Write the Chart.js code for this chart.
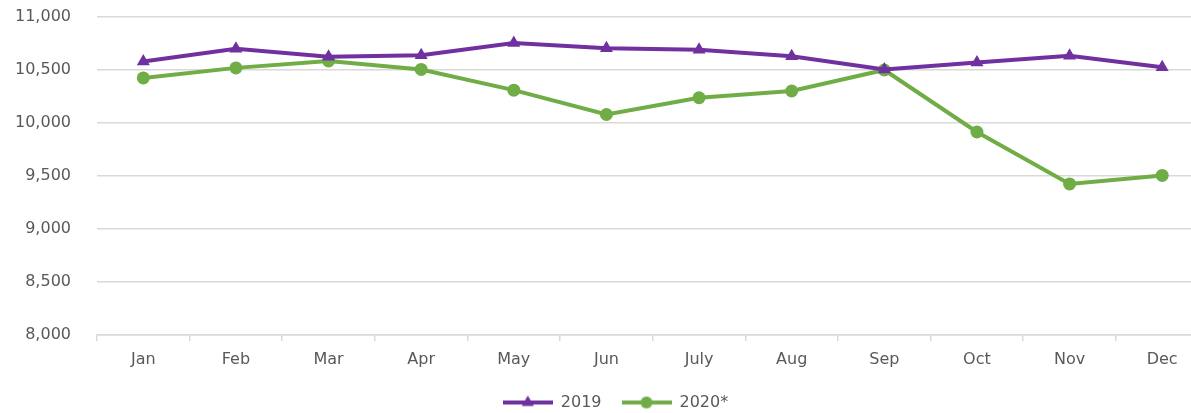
<!DOCTYPE html>
<html>
<head>
<meta charset="utf-8">
<script src="https://cdn.jsdelivr.net/npm/chart.js@4.4.1/dist/chart.umd.min.js"></script>
<style>
  html, body { margin: 0; padding: 0; background: #ffffff; overflow: hidden; }
  #wrap { position: relative; width: 1216px; height: 413px; }
</style>
</head>
<body>
<div id="wrap"><canvas id="c"></canvas></div>
<script>
const categories = ["Jan", "Feb", "Mar", "Apr", "May", "Jun", "July", "Aug", "Sep", "Oct", "Nov", "Dec"];
const series2019 = [10580, 10700, 10625, 10640, 10755, 10705, 10690, 10630, 10505, 10570, 10635, 10525];
const series2020 = [10425, 10520, 10585, 10505, 10310, 10080, 10238, 10302, 10500, 9915, 9425, 9505];
const seriesNames = ["2019", "2020*"];
const yTicks = { min: 8000, max: 11000, step: 500 };

const PURPLE = "#7030A0";
const GREEN = "#70AD47";
const TEXT = "#595959";
const GRID = "#d9d9d9";

function legendIcon(color, shape) {
  const cv = document.createElement("canvas");
  cv.width = 50; cv.height = 16;
  const ctx = cv.getContext("2d");
  ctx.strokeStyle = color; ctx.lineWidth = 4;
  ctx.beginPath(); ctx.moveTo(0, 8); ctx.lineTo(50, 8); ctx.stroke();
  ctx.fillStyle = color;
  ctx.beginPath();
  if (shape === "triangle") {
    const r = 7;
    ctx.moveTo(25, 8 - r);
    ctx.lineTo(25 + r * 0.866, 8 + r / 2);
    ctx.lineTo(25 - r * 0.866, 8 + r / 2);
    ctx.closePath();
  } else {
    ctx.arc(25, 8, 6, 0, Math.PI * 2);
  }
  ctx.fill();
  return cv;
}
const icons = [legendIcon(PURPLE, "triangle"), legendIcon(GREEN, "circle")];

Chart.defaults.font.family = "'DejaVu Sans', sans-serif";
Chart.defaults.font.size = 16;
Chart.defaults.color = TEXT;

new Chart(document.getElementById("c"), {
  type: "line",
  data: {
    labels: categories,
    datasets: [
      {
        label: seriesNames[0],
        data: series2019,
        borderColor: PURPLE,
        backgroundColor: PURPLE,
        borderWidth: 4,
        pointStyle: "triangle",
        pointRadius: 7.5,
        pointHoverRadius: 7.5,
        pointBorderWidth: 0,
        tension: 0
      },
      {
        label: seriesNames[1],
        data: series2020,
        borderColor: GREEN,
        backgroundColor: GREEN,
        borderWidth: 4,
        pointStyle: "circle",
        pointRadius: 6.5,
        pointHoverRadius: 6.5,
        pointBorderWidth: 0,
        tension: 0
      }
    ]
  },
  options: {
    responsive: true,
    maintainAspectRatio: false,
    animation: false,
    layout: { padding: { top: 17, left: 15, right: 0, bottom: -7.5 } },
    plugins: {
      tooltip: { enabled: false },
      legend: {
        position: "bottom",
        labels: {
          usePointStyle: true,
          pointStyleWidth: 50,
          padding: 20,
          color: TEXT,
          font: { size: 16 },
          generateLabels: (chart) => chart.data.datasets.map((ds, i) => ({
            text: ds.label,
            fillStyle: ds.borderColor,
            strokeStyle: ds.borderColor,
            lineWidth: 0,
            pointStyle: icons[i],
            fontColor: TEXT,
            datasetIndex: i,
            hidden: false
          }))
        }
      }
    },
    scales: {
      x: {
        type: "category",
        offset: true,
        afterFit: (s) => { s.height = 39.5; },
        grid: {
          offset: true,
          drawOnChartArea: false,
          drawTicks: true,
          tickLength: 6,
          color: GRID,
          lineWidth: 1.5
        },
        border: { display: true, color: GRID, width: 1.5 },
        ticks: { padding: 9.4, color: TEXT, maxRotation: 0, autoSkip: false }
      },
      y: {
        min: yTicks.min,
        max: yTicks.max,
        grid: { color: GRID, lineWidth: 1.5, drawTicks: true, tickLength: 26, tickColor: "rgba(0,0,0,0)" },
        border: { display: false },
        ticks: {
          stepSize: yTicks.step,
          padding: 0,
          color: TEXT,
          callback: (v) => Number(v).toLocaleString("en-US")
        }
      }
    }
  }
});
</script>
</body>
</html>
